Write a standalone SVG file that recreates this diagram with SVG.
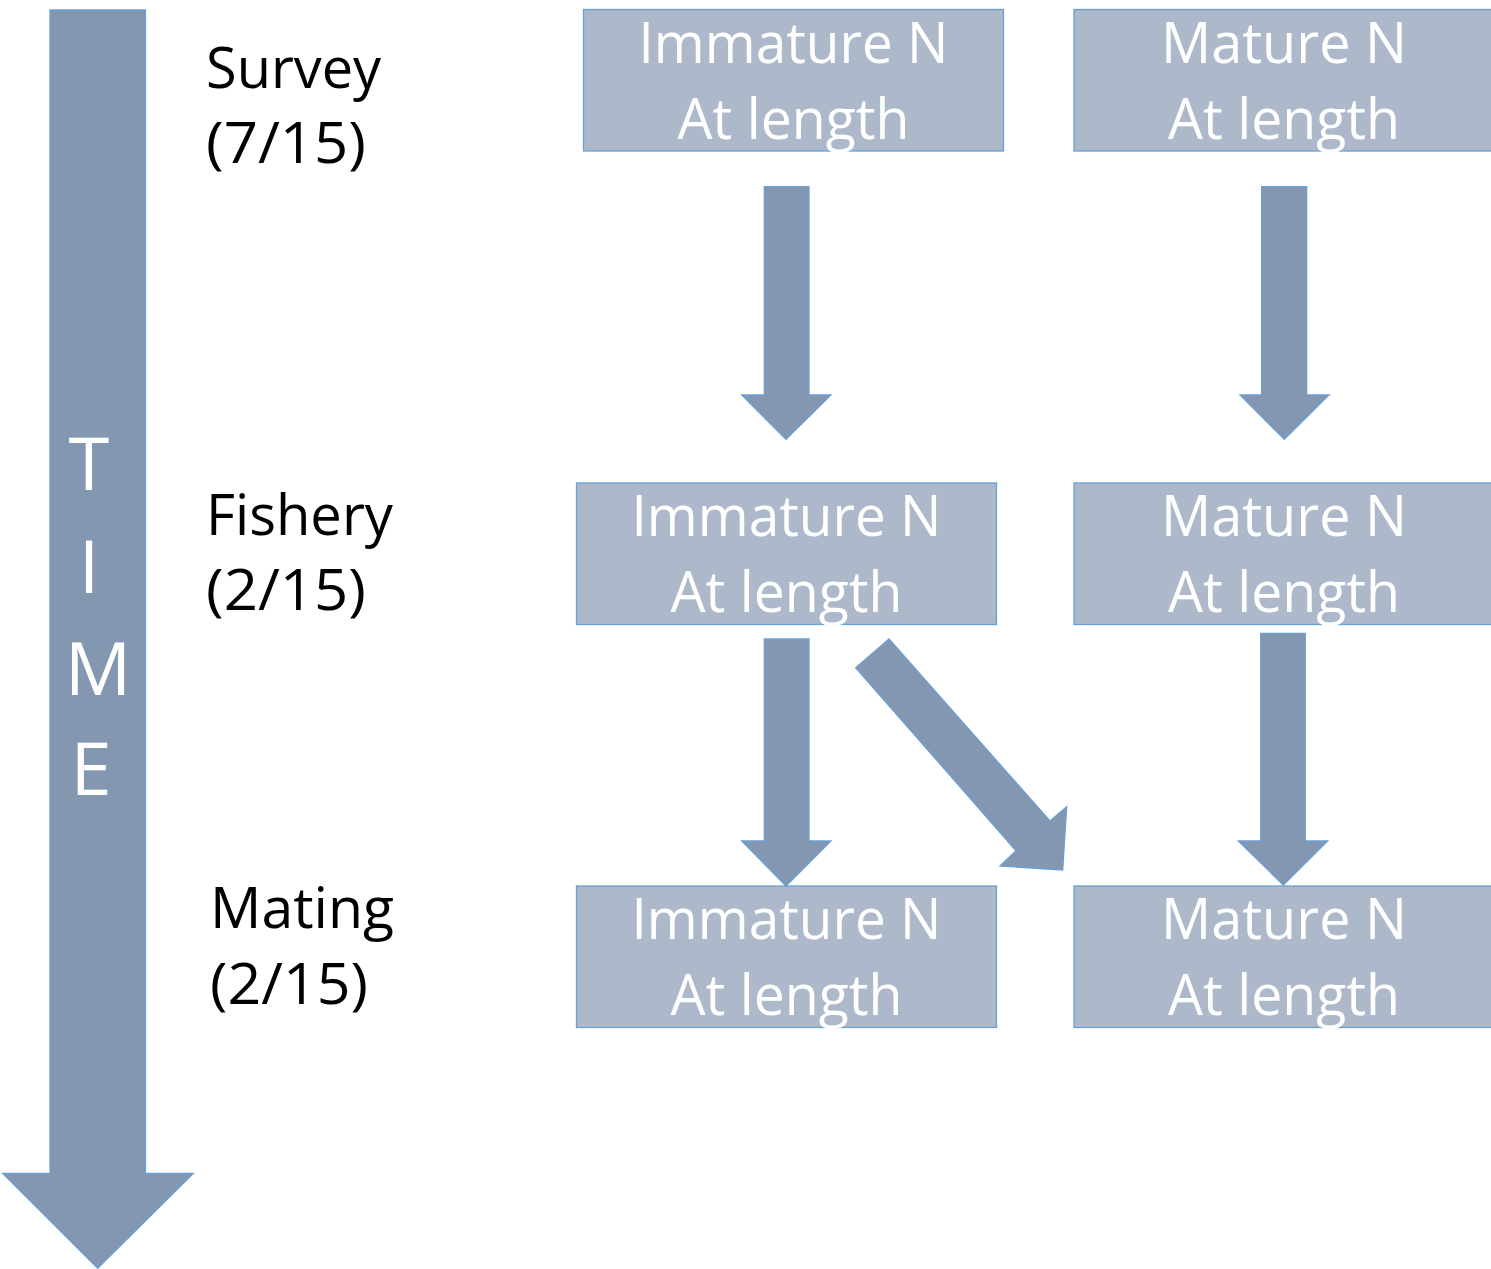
<svg xmlns="http://www.w3.org/2000/svg" width="1491" height="1269" viewBox="0 0 1491 1269">
<style>
.box{fill:#adb9ca;stroke:#6a9fd6;stroke-width:1.3}
.arr{fill:#8497b0;stroke:#6a9fd6;stroke-width:1.3;stroke-linejoin:miter}
.bt{font-family:"Open Sans","Noto Sans",sans-serif;font-size:56px;fill:#ffffff;text-anchor:middle}
.lb{font-family:"Open Sans","Noto Sans",sans-serif;font-size:56px;fill:#000000}
.tm{font-family:"Open Sans","Noto Sans",sans-serif;font-size:74px;fill:#ffffff;text-anchor:middle}
</style>
<rect width="1491" height="1269" fill="#ffffff"/>
<g id="time-arrow">
<polygon class="arr" points="50,10 145.5,10 145.5,1173.3 193.3,1173.3 97.7,1268.3 2.7,1173.3 50,1173.3"/>
<text class="tm" x="89" y="490">T</text>
<text class="tm" x="89" y="593">I</text>
<text class="tm" x="98" y="695">M</text>
<text class="tm" x="91" y="795">E</text>
</g>
<g id="labels">
<g id="label-survey"><text class="lb" x="206" y="88" textLength="175" lengthAdjust="spacingAndGlyphs">Survey</text><text class="lb" x="206" y="163" textLength="160" lengthAdjust="spacingAndGlyphs">(7/15)</text></g>
<g id="label-fishery"><text class="lb" x="206" y="535" textLength="187" lengthAdjust="spacingAndGlyphs">Fishery</text><text class="lb" x="206" y="610" textLength="160" lengthAdjust="spacingAndGlyphs">(2/15)</text></g>
<g id="label-mating"><text class="lb" x="210" y="928" textLength="184" lengthAdjust="spacingAndGlyphs">Mating</text><text class="lb" x="210" y="1004" textLength="158" lengthAdjust="spacingAndGlyphs">(2/15)</text></g>
</g>
<g id="node-imm-survey"><rect class="box" x="583.5" y="9.5" width="420" height="141.5"/><text class="bt" x="793.5" y="63" textLength="310" lengthAdjust="spacingAndGlyphs">Immature N</text><text class="bt" x="793.5" y="139" textLength="232" lengthAdjust="spacingAndGlyphs">At length</text></g>
<g id="node-mat-survey"><rect class="box" x="1074" y="9.5" width="420" height="141.5"/><text class="bt" x="1284" y="63" textLength="246" lengthAdjust="spacingAndGlyphs">Mature N</text><text class="bt" x="1284" y="139" textLength="232" lengthAdjust="spacingAndGlyphs">At length</text></g>
<g id="node-imm-fishery"><rect class="box" x="576.5" y="483" width="420" height="141.5"/><text class="bt" x="786.5" y="536" textLength="310" lengthAdjust="spacingAndGlyphs">Immature N</text><text class="bt" x="786.5" y="612" textLength="232" lengthAdjust="spacingAndGlyphs">At length</text></g>
<g id="node-mat-fishery"><rect class="box" x="1074" y="483" width="420" height="141.5"/><text class="bt" x="1284" y="536" textLength="246" lengthAdjust="spacingAndGlyphs">Mature N</text><text class="bt" x="1284" y="612" textLength="232" lengthAdjust="spacingAndGlyphs">At length</text></g>
<g id="node-imm-mating"><rect class="box" x="576.5" y="886" width="420" height="141.5"/><text class="bt" x="786.5" y="939" textLength="310" lengthAdjust="spacingAndGlyphs">Immature N</text><text class="bt" x="786.5" y="1015" textLength="232" lengthAdjust="spacingAndGlyphs">At length</text></g>
<g id="node-mat-mating"><rect class="box" x="1074" y="886" width="420" height="141.5"/><text class="bt" x="1284" y="939" textLength="246" lengthAdjust="spacingAndGlyphs">Mature N</text><text class="bt" x="1284" y="1015" textLength="232" lengthAdjust="spacingAndGlyphs">At length</text></g>
<g id="connectors">
<polygon class="arr" points="764.3,186.7 809,186.7 809,395 831,395 786,439.3 741.7,395 764.3,395"/>
<polygon class="arr" points="1261.7,186.7 1306.7,186.7 1306.7,395 1329,395 1284.3,439.3 1240,395 1261.7,395"/>
<polygon class="arr" points="764.3,639 809,639 809,841 831,841 786,886 741.7,841 764.3,841"/>
<polygon class="arr" points="1260.7,633.3 1305.3,633.3 1305.3,841 1327.7,841 1283.3,885 1238.3,841 1260.7,841"/>
<polygon class="arr" points="855.7,667.7 889,639 1050,821 1066.7,806.7 1062.7,870 1000,866 1016,850.7"/>
</g>
</svg>
